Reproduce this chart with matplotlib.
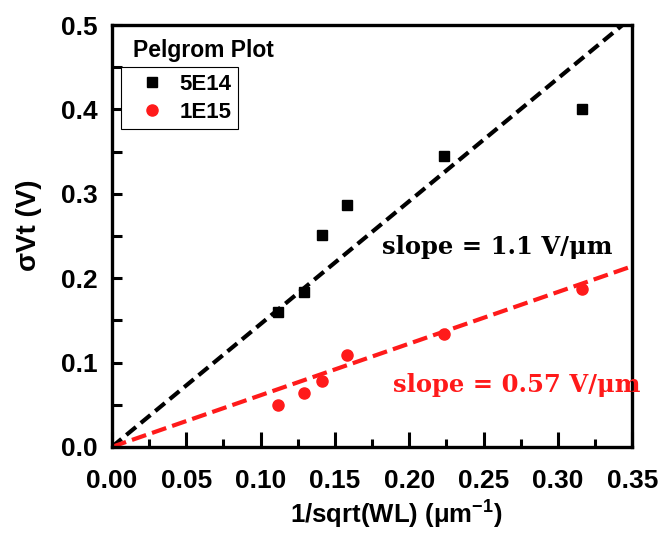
import numpy as np
import matplotlib
matplotlib.use("Agg")
import matplotlib.pyplot as plt
import matplotlib.ticker as ticker

plt.rcParams['font.family'] = ['Liberation Sans', 'DejaVu Sans']
plt.rcParams['mathtext.fontset'] = 'custom'
plt.rcParams['mathtext.rm'] = 'Liberation Sans:bold'
plt.rcParams['mathtext.bf'] = 'Liberation Sans:bold'

# 1/sqrt(WL) in um^-1
x = np.array([0.1118, 0.1291, 0.1414, 0.1581, 0.2236, 0.3162])
# sigma Vt (V)
y_5e14 = np.array([0.160, 0.184, 0.251, 0.287, 0.345, 0.401])
y_1e15 = np.array([0.050, 0.064, 0.078, 0.109, 0.134, 0.187])

# slopes of the dashed fit lines as drawn
fit_5e14 = 1.456
fit_1e15 = 0.612
x_fit = np.array([0.0, 0.35])

fig = plt.figure(figsize=(6.62, 5.45), dpi=100)
ax = fig.add_axes([0.169, 0.180, 0.786, 0.774])

ax.plot(x_fit, fit_5e14 * x_fit, color="black", lw=3.0, dashes=(3.0, 1.5), zorder=2)
ax.plot(x_fit, fit_1e15 * x_fit, color="#ff1a1a", lw=3.0, dashes=(3.6, 1.5), zorder=2)

ax.plot(x, y_5e14, "s", color="black", ms=7.5, label="5E14", zorder=3)
ax.plot(x, y_1e15, "o", color="#ff1a1a", ms=8, label="1E15", zorder=3)

ax.set_xlim(0, 0.35)
ax.set_ylim(0, 0.5)
ax.xaxis.set_major_locator(ticker.MultipleLocator(0.05))
ax.xaxis.set_minor_locator(ticker.MultipleLocator(0.025))
ax.yaxis.set_major_locator(ticker.MultipleLocator(0.1))
ax.yaxis.set_minor_locator(ticker.MultipleLocator(0.05))
ax.xaxis.set_major_formatter(ticker.FormatStrFormatter("%.2f"))
ax.yaxis.set_major_formatter(ticker.FormatStrFormatter("%.1f"))

for s in ax.spines.values():
    s.set_linewidth(2.4)

ax.tick_params(axis="x", which="major", direction="in", length=11, width=2.2,
               labelsize=19, pad=16)
ax.tick_params(axis="x", which="minor", direction="in", length=5.5, width=2.2)
ax.tick_params(axis="y", which="both", direction="in", length=7, width=2.2,
               labelsize=19, pad=10)
for lab in ax.get_xticklabels() + ax.get_yticklabels():
    lab.set_fontweight("bold")

ax.set_xlabel("1/sqrt(WL) (μm$^{\\mathbf{-1}}$)", fontsize=18.5, fontweight="bold")
ax.set_ylabel("σVt (V)", fontsize=20, fontweight="bold")
ax.xaxis.set_label_coords(0.546, -0.118)
ax.yaxis.set_label_coords(-0.135, 0.526)

ax.text(0.040, 0.94, "Pelgrom Plot", transform=ax.transAxes, fontsize=16.5,
        fontweight="bold", va="center", ha="left")

leg = ax.legend(loc="upper left", bbox_to_anchor=(0.017, 0.900), frameon=True,
                fancybox=False, edgecolor="black", framealpha=1,
                prop={"size": 16, "weight": "bold"}, handletextpad=0.15,
                borderpad=0.3, borderaxespad=0, labelspacing=0.3, handlelength=2.2)
leg.get_frame().set_linewidth(0.8)

ax.text(0.519, 0.474, "slope = 1.1 V/μm", transform=ax.transAxes, fontsize=17.5,
        fontweight="bold", family="DejaVu Serif", color="black", va="center", ha="left")
ax.text(0.540, 0.147, "slope = 0.57 V/μm", transform=ax.transAxes, fontsize=17.5,
        fontweight="bold", family="DejaVu Serif", color="#ff1a1a", va="center", ha="left",
        clip_on=False)

fig.savefig("out.png", dpi=100)
